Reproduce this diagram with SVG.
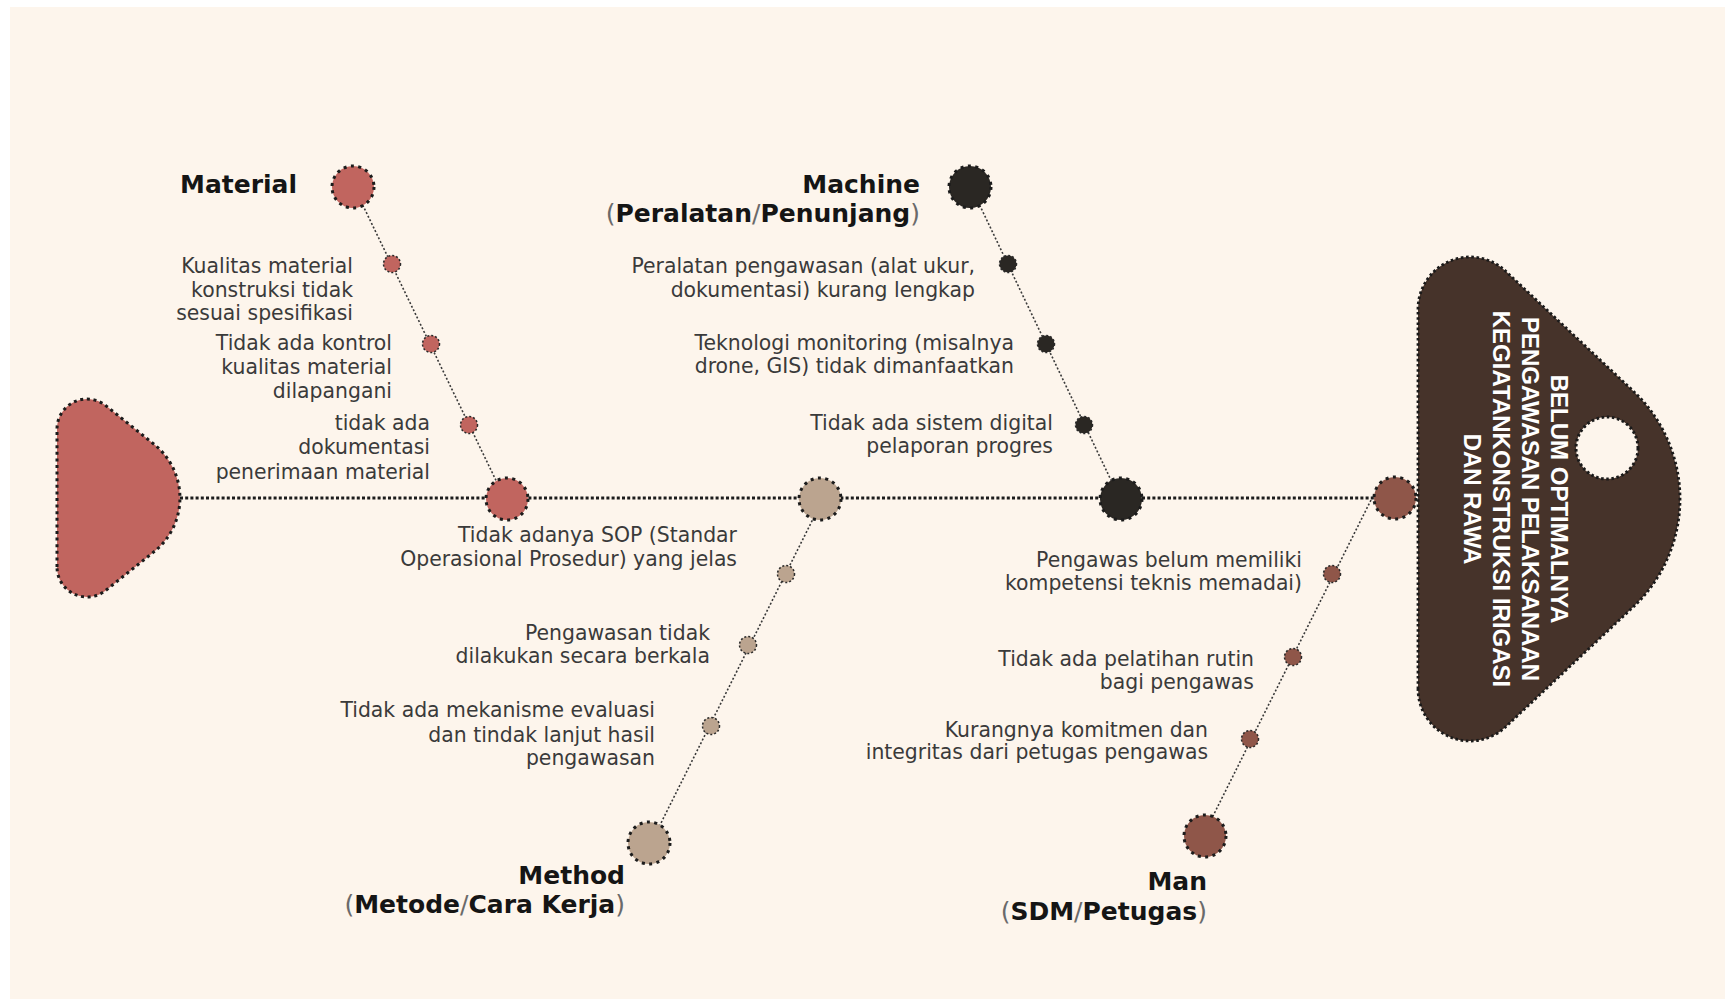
<svg xmlns="http://www.w3.org/2000/svg" width="1725" height="999" viewBox="0 0 1725 999">
<style>
.lbl{font-family:"DejaVu Sans","Liberation Sans",sans-serif;font-size:20.4px;fill:#3a3a3a;text-anchor:end}
.ttl{font-family:"DejaVu Sans","Liberation Sans",sans-serif;font-size:25px;font-weight:bold;fill:#151515}
.pl{font-weight:normal;fill:#6a6a6a}
.big{stroke:#1c1c1c;stroke-width:3;stroke-dasharray:3 4.4}
.sm{stroke:#2a2a2a;stroke-width:1.5;stroke-dasharray:2 2}
.bone{stroke:#3a3a3a;stroke-width:1.6;stroke-dasharray:2 2;fill:none}
.spine{stroke:#1c1c1c;stroke-width:3.2;stroke-dasharray:3 2.2;fill:none}
.head{font-family:"Liberation Sans","Arial",sans-serif;font-size:24px;font-weight:bold;fill:#ffffff;text-anchor:middle}
.mat{fill:#C1655F}.mac{fill:#2A2723}.met{fill:#BBA48F}.man{fill:#8F5649}
</style>
<rect x="0" y="0" width="1725" height="999" fill="#ffffff"/>
<rect x="10" y="7" width="1715" height="992" fill="#FDF5EC"/>

<g id="connectors">
<line class="spine" x1="180" y1="498" x2="1374" y2="498"/>
<line class="bone" x1="354" y1="187" x2="505" y2="499"/>
<line class="bone" x1="971" y1="187" x2="1120" y2="499"/>
<line class="bone" x1="823" y1="499" x2="651" y2="843"/>
<line class="bone" x1="1371" y1="500" x2="1203" y2="836"/>
</g>

<g id="tail">
<path d="M 57,567 L 57,429 A 30 30 0 0 1 105.75,405.6 L 154.1,444.3 A 68.7 68.7 0 0 1 154.1,551.7 L 105.75,590.4 A 30 30 0 0 1 57,567 Z" fill="#C1655F" stroke="#1c1c1c" stroke-width="3" stroke-dasharray="3 3.6"/>
</g>

<g id="head">
<path d="M 1418,689 L 1418,309 A 52 52 0 0 1 1505.6,271.1 L 1633.2,391 A 148 148 0 0 1 1633.2,607 L 1505.6,726.9 A 52 52 0 0 1 1418,689 Z" fill="#46332A" stroke="#1a1a1a" stroke-width="2.8" stroke-dasharray="2.6 2.6"/>
<circle cx="1607" cy="448" r="31" fill="#FDF5EC" stroke="#1a1a1a" stroke-width="3" stroke-dasharray="2.6 2.6"/>
<text class="head" transform="translate(1551,499) rotate(90)">BELUM OPTIMALNYA</text>
<text class="head" transform="translate(1522,499) rotate(90)">PENGAWASAN PELAKSANAAN</text>
<text class="head" transform="translate(1493,499) rotate(90)">KEGIATANKONSTRUKSI IRIGASI</text>
<text class="head" transform="translate(1464,499) rotate(90)">DAN RAWA</text>
</g>

<g id="material">
<circle class="mat big" cx="353" cy="187" r="21"/>
<text class="ttl" x="180" y="193">Material</text>
<circle class="mat sm" cx="392" cy="264" r="8.5"/>
<circle class="mat sm" cx="431" cy="344" r="8.5"/>
<circle class="mat sm" cx="469" cy="425" r="8.5"/>
<circle class="mat big" cx="507" cy="499" r="21"/>
<text class="lbl"><tspan x="353" y="273">Kualitas material</tspan><tspan x="353" y="297">konstruksi tidak</tspan><tspan x="353" y="320">sesuai spesifikasi</tspan></text>
<text class="lbl"><tspan x="392" y="350">Tidak ada kontrol</tspan><tspan x="392" y="374">kualitas material</tspan><tspan x="392" y="398">dilapangani</tspan></text>
<text class="lbl"><tspan x="430" y="430">tidak ada</tspan><tspan x="430" y="454">dokumentasi</tspan><tspan x="430" y="479">penerimaan material</tspan></text>
</g>

<g id="machine">
<circle class="mac big" cx="970" cy="187" r="21"/>
<text class="ttl" text-anchor="end"><tspan x="920" y="193">Machine</tspan><tspan x="920" y="222"><tspan class="pl">(</tspan>Peralatan<tspan class="pl">/</tspan>Penunjang<tspan class="pl">)</tspan></tspan></text>
<circle class="mac sm" cx="1008" cy="264" r="8.5"/>
<circle class="mac sm" cx="1046" cy="344" r="8.5"/>
<circle class="mac sm" cx="1084" cy="425" r="8.5"/>
<circle class="mac big" cx="1121" cy="499" r="21"/>
<text class="lbl"><tspan x="975" y="273">Peralatan pengawasan (alat ukur,</tspan><tspan x="975" y="297">dokumentasi) kurang lengkap</tspan></text>
<text class="lbl"><tspan x="1014" y="350">Teknologi monitoring (misalnya</tspan><tspan x="1014" y="373">drone, GIS) tidak dimanfaatkan</tspan></text>
<text class="lbl"><tspan x="1053" y="430">Tidak ada sistem digital</tspan><tspan x="1053" y="453">pelaporan progres</tspan></text>
</g>

<g id="method">
<circle class="met big" cx="820" cy="499" r="21"/>
<circle class="met sm" cx="786" cy="574" r="8.5"/>
<circle class="met sm" cx="748" cy="645" r="8.5"/>
<circle class="met sm" cx="711" cy="726" r="8.5"/>
<circle class="met big" cx="649" cy="843" r="21"/>
<text class="lbl"><tspan x="737" y="542">Tidak adanya SOP (Standar</tspan><tspan x="737" y="566">Operasional Prosedur) yang jelas</tspan></text>
<text class="lbl"><tspan x="710" y="640">Pengawasan tidak</tspan><tspan x="710" y="663">dilakukan secara berkala</tspan></text>
<text class="lbl"><tspan x="655" y="717">Tidak ada mekanisme evaluasi</tspan><tspan x="655" y="742">dan tindak lanjut hasil</tspan><tspan x="655" y="765">pengawasan</tspan></text>
<text class="ttl" text-anchor="end"><tspan x="625" y="884">Method</tspan><tspan x="625" y="913"><tspan class="pl">(</tspan>Metode<tspan class="pl">/</tspan>Cara Kerja<tspan class="pl">)</tspan></tspan></text>
</g>

<g id="man">
<circle class="man big" cx="1395" cy="498" r="21"/>
<circle class="man sm" cx="1332" cy="574" r="8.5"/>
<circle class="man sm" cx="1293" cy="657" r="8.5"/>
<circle class="man sm" cx="1250" cy="739" r="8.5"/>
<circle class="man big" cx="1205" cy="836" r="21"/>
<text class="lbl"><tspan x="1302" y="567">Pengawas belum memiliki</tspan><tspan x="1302" y="590">kompetensi teknis memadai)</tspan></text>
<text class="lbl"><tspan x="1254" y="666">Tidak ada pelatihan rutin</tspan><tspan x="1254" y="689">bagi pengawas</tspan></text>
<text class="lbl"><tspan x="1208" y="737">Kurangnya komitmen dan</tspan><tspan x="1208" y="759">integritas dari petugas pengawas</tspan></text>
<text class="ttl" text-anchor="end"><tspan x="1207" y="890">Man</tspan><tspan x="1207" y="920"><tspan class="pl">(</tspan>SDM<tspan class="pl">/</tspan>Petugas<tspan class="pl">)</tspan></tspan></text>
</g>
</svg>
